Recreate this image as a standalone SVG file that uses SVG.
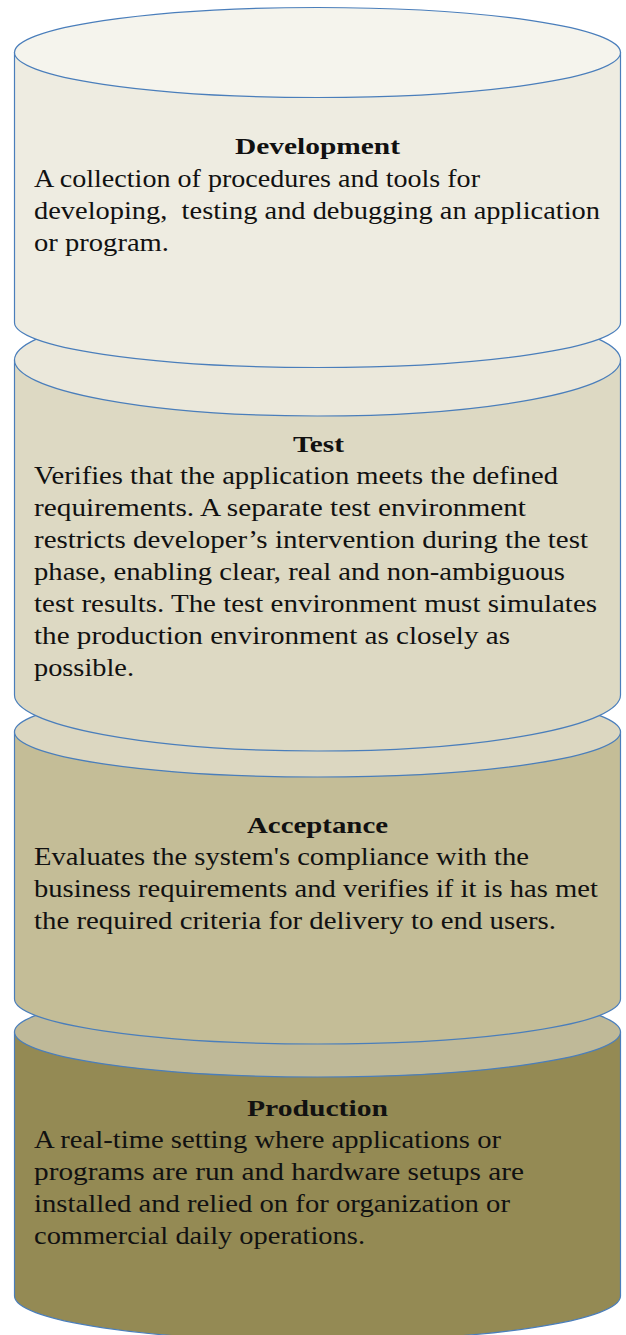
<svg xmlns="http://www.w3.org/2000/svg" width="626" height="1335" viewBox="0 0 626 1335">
  <style>
    .edge { stroke: #4A7EBB; stroke-width: 1.2; }
    .title { font-family: "Liberation Serif", "Times New Roman", serif; font-size: 24px; font-weight: bold; fill: #111; text-anchor: middle; }
    .body { font-family: "Liberation Serif", "Times New Roman", serif; font-size: 24.5px; fill: #111; }
  </style>
  <rect width="626" height="1335" fill="#ffffff"/>

  <!-- stacked cylinders, drawn bottom-up so each upper can overlaps the one below -->
  <g id="production">
    <path class="edge" fill="#948A54" d="M14.5,1032 L14.5,1296 A303,45 0 0 0 620.5,1296 L620.5,1032 Z"/>
    <ellipse class="edge" cx="317.5" cy="1032" rx="303" ry="45" fill="#BFB998"/>
    <text class="title" x="317.5" y="1116" textLength="141" lengthAdjust="spacingAndGlyphs">Production</text>
    <text class="body" x="34" y="1148" textLength="467" lengthAdjust="spacingAndGlyphs">A real-time setting where applications or</text>
    <text class="body" x="34" y="1180" textLength="490" lengthAdjust="spacingAndGlyphs">programs are run and hardware setups are</text>
    <text class="body" x="34" y="1212" textLength="476" lengthAdjust="spacingAndGlyphs">installed and relied on for organization or</text>
    <text class="body" x="34" y="1244" textLength="331" lengthAdjust="spacingAndGlyphs">commercial daily operations.</text>
  </g>

  <g id="acceptance">
    <path class="edge" fill="#C4BD97" d="M14.5,732 L14.5,999 A303,45 0 0 0 620.5,999 L620.5,732 Z"/>
    <ellipse class="edge" cx="317.5" cy="732" rx="303" ry="45" fill="#DCD7C1"/>
    <text class="title" x="317.5" y="833" textLength="141" lengthAdjust="spacingAndGlyphs">Acceptance</text>
    <text class="body" x="34" y="865" textLength="495" lengthAdjust="spacingAndGlyphs">Evaluates the system's compliance with the</text>
    <text class="body" x="34" y="897" textLength="564" lengthAdjust="spacingAndGlyphs">business requirements and verifies if it is has met</text>
    <text class="body" x="34" y="929" textLength="522" lengthAdjust="spacingAndGlyphs">the required criteria for delivery to end users.</text>
  </g>

  <g id="test">
    <path class="edge" fill="#DDD9C3" d="M14.5,360 L14.5,695 A303,56 0 0 0 620.5,695 L620.5,360 Z"/>
    <ellipse class="edge" cx="317.5" cy="360" rx="303" ry="56" fill="#EBE8DB"/>
    <text class="title" x="318.5" y="452" textLength="51" lengthAdjust="spacingAndGlyphs">Test</text>
    <text class="body" x="34" y="484" textLength="524" lengthAdjust="spacingAndGlyphs">Verifies that the application meets the defined</text>
    <text class="body" x="34" y="516" textLength="492" lengthAdjust="spacingAndGlyphs">requirements. A separate test environment</text>
    <text class="body" x="34" y="548" textLength="554" lengthAdjust="spacingAndGlyphs">restricts developer’s intervention during the test</text>
    <text class="body" x="34" y="580" textLength="531" lengthAdjust="spacingAndGlyphs">phase, enabling clear, real and non-ambiguous</text>
    <text class="body" x="34" y="612" textLength="563" lengthAdjust="spacingAndGlyphs">test results. The test environment must simulates</text>
    <text class="body" x="34" y="644" textLength="476" lengthAdjust="spacingAndGlyphs">the production environment as closely as</text>
    <text class="body" x="34" y="676" textLength="100" lengthAdjust="spacingAndGlyphs">possible.</text>
  </g>

  <g id="development">
    <path class="edge" fill="#EEECE1" d="M14.5,52.5 L14.5,322.5 A303,45 0 0 0 620.5,322.5 L620.5,52.5 Z"/>
    <ellipse class="edge" cx="317.5" cy="52.5" rx="303" ry="45" fill="#F5F4ED"/>
    <text class="title" x="317.5" y="154" textLength="165" lengthAdjust="spacingAndGlyphs">Development</text>
    <text class="body" x="34" y="187" textLength="446" lengthAdjust="spacingAndGlyphs">A collection of procedures and tools for</text>
    <text class="body" x="34" y="219" textLength="566" lengthAdjust="spacingAndGlyphs" xml:space="preserve">developing,  testing and debugging an application</text>
    <text class="body" x="34" y="251" textLength="135" lengthAdjust="spacingAndGlyphs">or program.</text>
  </g>

  <!-- no connectors: the stages are stacked rather than linked -->
  <g id="connectors"/>
</svg>
